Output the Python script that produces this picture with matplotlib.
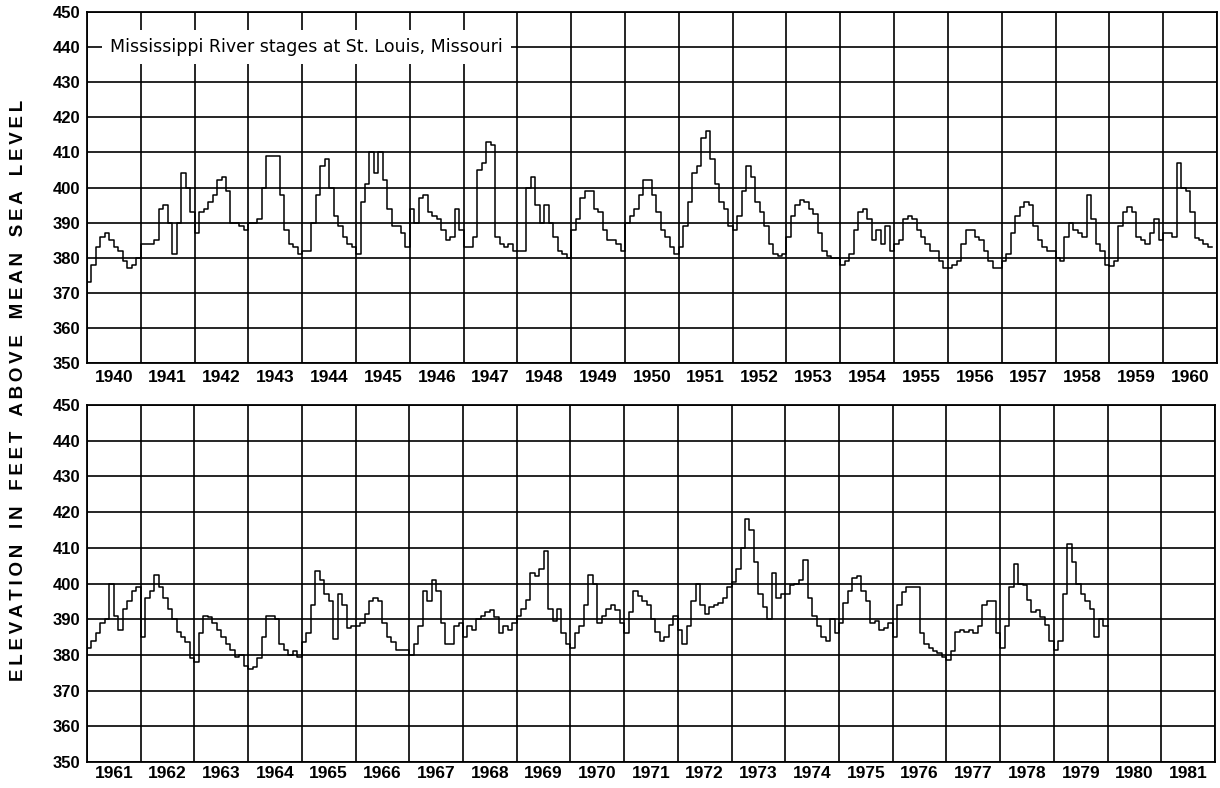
import numpy as np
import matplotlib
matplotlib.use("Agg")
import matplotlib.pyplot as plt

#======================================================================#
# Mississippi River stages at St. Louis, monthly, two panels.
#======================================================================#

#Monthly stage values (feet above mean sea level), one row per year.
upperStart = 1940
upperStage = [
    373, 378, 383, 386, 387, 385, 383, 382, 379, 377, 378, 380,        #1940
    384, 384, 384, 385, 394, 395, 390, 381, 390, 404, 400, 393,        #1941
    387, 393, 394, 396, 398, 402, 403, 399, 390, 390, 389, 388,        #1942
    390, 390, 391, 400, 409, 409, 409, 398, 388, 384, 383, 381,        #1943
    382, 382, 390, 398, 406, 408, 400, 392, 389, 386, 384, 383,        #1944
    381, 396, 401, 410, 404, 410, 402, 394, 389, 389, 387, 383,        #1945
    394, 390, 397, 398, 393, 392, 391, 388, 385, 386, 394, 388,        #1946
    383, 383, 386, 405, 407, 413, 412, 386, 384, 383, 384, 382,        #1947
    382, 382, 400, 403, 395, 390, 395, 390, 386, 382, 381, 380,        #1948
    388, 391, 397, 399, 399, 394, 393, 388, 385, 385, 384, 382,        #1949
    390, 392, 394, 398, 402, 402, 398, 393, 388, 386, 383, 381,        #1950
    383, 389, 396, 404, 406, 414, 416, 408, 401, 396, 394, 389,        #1951
    388, 392, 399, 406, 403, 396, 393, 389, 384, 381, 380.5, 381,      #1952
    386, 392, 395, 396.5, 396, 394, 392.5, 387, 382, 380.5, 380, 380,  #1953
    378, 379, 381, 388, 393, 394, 391, 385, 388, 384, 389, 382,        #1954
    384, 385, 391, 392, 391, 388, 386, 384, 382, 382, 379, 377,        #1955
    377, 378, 379, 384, 388, 388, 386, 385, 382, 379, 377, 377,        #1956
    379, 381, 387, 392, 394.5, 396, 395, 389, 385, 383, 382, 382,      #1957
    380, 379, 386, 390, 388, 387, 386, 398, 391, 384, 382, 378,        #1958
    377.5, 379, 389, 393, 394.5, 393, 386, 385, 384, 387, 391, 385,    #1959
    387, 387, 386, 407, 400, 399, 393, 385.5, 385, 384, 383,           #1960
]

lowerStart = 1961
lowerStage = [
    382, 384, 386, 389, 390, 400, 391, 387, 393, 395, 398, 399,        #1961
    385, 396, 398, 402.5, 399, 396, 393, 390, 386.5, 385, 383.5, 379,  #1962
    378, 386, 391, 390.5, 389, 387, 385, 383, 381.5, 379.5, 380, 377,  #1963
    376, 376.5, 379, 385, 391, 391, 390, 383, 381.5, 380, 381, 379.5,  #1964
    383.5, 386, 394, 403.5, 401, 397, 395, 384.5, 397, 394, 387.5, 388,  #1965
    388, 389, 391.5, 395, 396, 395, 389, 385, 383.5, 381.5, 381.5, 381.5,  #1966
    380, 383, 388, 398, 395, 401, 398, 389, 383, 383, 388, 389,        #1967
    385, 388, 387, 390, 391, 392, 392.5, 390.5, 386, 388, 387, 389,    #1968
    391, 393, 395.5, 403, 402, 404, 409, 393, 389.5, 393, 386, 383,    #1969
    382, 386, 388, 394, 402.5, 400, 389, 391, 393, 394, 392.5, 389,    #1970
    386, 392, 398, 396.5, 395, 394, 390, 386.5, 384, 385, 388.5, 391,  #1971
    387, 383, 388, 395, 400, 394, 391.5, 393.5, 394, 394.5, 396, 399,  #1972
    400.5, 404, 410, 418, 415, 406, 397, 393.5, 390, 403, 396, 397,    #1973
    397, 399.5, 400, 401, 406.5, 396, 391, 388, 385, 384, 390, 386,    #1974
    389, 394.5, 398, 401.5, 402, 398, 395, 389, 389.5, 387, 387.5, 389,  #1975
    385, 394, 397.5, 399, 399, 399, 386, 383, 382, 381, 380.5, 379.5,  #1976
    378.5, 381, 386.5, 387, 386.5, 387, 386, 388, 394, 395, 395, 386,  #1977
    382, 388, 399, 405.5, 400, 399.5, 395.5, 392, 392.5, 390.5, 388.5, 384,  #1978
    381.5, 384, 397, 411, 406, 400, 397, 395, 393, 385, 390, 388,      #1979
]

yTicks = [350, 360, 370, 380, 390, 400, 410, 420, 430, 440, 450]
titleText = "Mississippi River stages at St. Louis, Missouri"
yLabel = "ELEVATION IN FEET ABOVE MEAN SEA LEVEL"

font = ['Liberation Sans', 'DejaVu Sans']
plt.rcParams['font.family'] = font


#Sets up one panel covering 21 years.
def setupPanel(ax, startYear, labelPad):
    years = np.arange(startYear, startYear + 21)
    ax.set_xlim(startYear, startYear + 21)
    ax.set_ylim(350, 450)
    ax.set_xticks(years + 0.5)
    ax.set_xticklabels([str(y) for y in years], fontsize=12.5, fontweight='bold')
    ax.set_xticks(np.arange(startYear, startYear + 22), minor=True)
    ax.set_yticks(yTicks)
    ax.set_yticklabels([str(v) for v in yTicks], fontsize=12, fontweight='bold')
    ax.tick_params(axis='x', which='both', length=0, pad=labelPad)
    ax.tick_params(axis='y', length=0, pad=5)
    ax.grid(axis='x', which='minor', color='black', linewidth=1.2, zorder=1)
    ax.grid(axis='y', which='major', color='black', linewidth=1.2, zorder=1)
    ax.grid(axis='x', which='major', visible=False)
    for s in ax.spines.values():
        s.set_linewidth(1.3)
        s.set_color('black')


#Draws the monthly stage as a stepped line.
def drawStage(ax, startYear, values):
    x = startYear + np.arange(len(values)) / 12.0
    x = np.append(x, x[-1] + 1.0 / 12.0)
    y = np.append(values, values[-1])
    ax.step(x, y, where='post', color='black', linewidth=1.1, zorder=3)


fig = plt.figure(figsize=(12.2, 7.88), dpi=100)
axTop = fig.add_axes([0.0713, 0.5393, 0.9262, 0.4455])
axBot = fig.add_axes([0.0713, 0.0330, 0.9246, 0.4530])

setupPanel(axTop, upperStart, 5)
setupPanel(axBot, lowerStart, 3)
drawStage(axTop, upperStart, upperStage)
drawStage(axBot, lowerStart, lowerStage)

axTop.text(1940.43, 440, titleText, fontsize=12.5, family='DejaVu Sans',
           ha='left', va='center', zorder=5,
           bbox=dict(facecolor='white', edgecolor='none', pad=6))

#Letter spaced vertical axis label.
spaced = '   '.join('\u2009'.join(w) for w in yLabel.split(' '))
fig.text(0.015, 0.505, spaced, rotation=90, ha='center', va='center',
         fontsize=13.5, fontweight='bold')

fig.savefig("out.png", dpi=100)
